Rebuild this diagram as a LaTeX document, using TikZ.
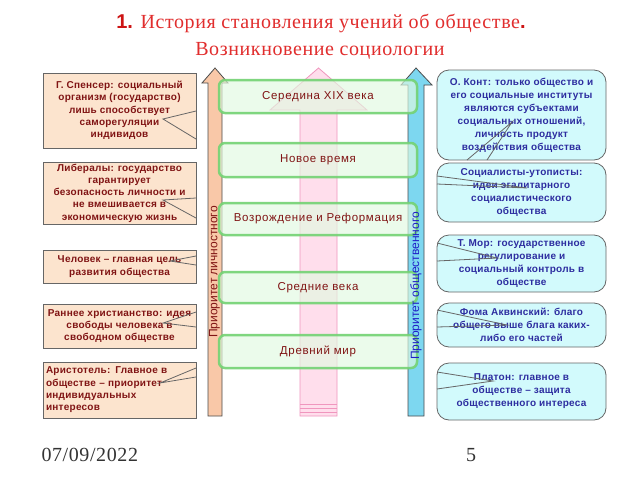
\documentclass[tikz,border=0pt]{standalone}
\usepackage{fontspec}
\setmainfont{Liberation Serif}[LetterSpace=3]
\setsansfont{Liberation Sans}
\newfontfamily\lbf{Liberation Sans}[LetterSpace=2.5]
\newfontfamily\gsf{Liberation Sans}[LetterSpace=6]
\definecolor{titlered}{RGB}{225,45,45}
\definecolor{titledark}{RGB}{205,20,20}
\definecolor{maroont}{RGB}{128,20,20}
\definecolor{navyt}{RGB}{45,45,160}
\definecolor{bluet}{RGB}{30,30,200}
\definecolor{peachbox}{RGB}{252,228,206}
\definecolor{cyanbox}{RGB}{210,250,252}
\definecolor{greenline}{RGB}{115,210,115}
\definecolor{greenfill}{RGB}{225,250,225}
\definecolor{orangearrow}{RGB}{249,200,168}
\definecolor{bluearrow}{RGB}{125,215,240}
\definecolor{pinkline}{RGB}{240,150,190}
\definecolor{pinkfill}{RGB}{255,222,236}
\tikzset{
  lbox/.style={draw=black!60, fill=peachbox, line width=0.8pt, inner sep=1pt, text=maroont,
    font=\lbf\bfseries\fontsize{10}{12.3}\selectfont, align=center, minimum width=153pt},
  rbox/.style={draw=black!60, fill=cyanbox, line width=0.8pt, rounded corners=12pt, inner sep=1pt, text=navyt,
    font=\lbf\bfseries\fontsize{10}{13}\selectfont, align=center, minimum width=169pt},
  gbox/.style={draw=greenline, line width=2.5pt, fill=greenfill, fill opacity=0.65, draw opacity=0.9, text opacity=1,
    rounded corners=6pt, minimum width=198pt, text=maroont, font=\gsf\fontsize{11.5}{13}\selectfont},
  notch/.style={draw=black!60, line width=0.8pt},
  arrowshape/.style={draw=black!70, line width=0.8pt},
  rottext/.style={rotate=90, font=\sffamily\fontsize{12}{13}\selectfont}
}
\begin{document}
\begin{tikzpicture}[x=1pt,y=-1pt]
\useasboundingbox[fill=white] (0,0) rectangle (640,480);
% title
\node[anchor=base, text=titlered, font=\fontsize{20}{24}\selectfont] (t1) at (321,28)
  {{\sffamily\bfseries\color{titledark}1.} История становления учений об обществе{\sffamily\bfseries\color{titledark}.}};
\node[anchor=base, text=titlered, font=\fontsize{20}{24}\selectfont] (t2) at (320,55) {Возникновение социологии};
% pink middle arrow
\draw[draw=pinkline, fill=pinkfill, line width=0.8pt]
  (300,416) -- (300,110) -- (270,110) -- (318.5,68) -- (367,110) -- (337,110) -- (337,416) -- cycle;
\draw[draw=pinkline, line width=0.6pt] (300,404) -- (337,404) (300,408) -- (337,408) (300,412) -- (337,412);
% left arrow
\draw[arrowshape, fill=orangearrow]
  (208,416) -- (208,83) -- (202,83) -- (215,68) -- (228,83) -- (222,83) -- (222,416) -- cycle;
% right arrow
\draw[arrowshape, fill=bluearrow]
  (408,416) -- (408,85) -- (401,85) -- (416,68) -- (432,85) -- (424,85) -- (424,416) -- cycle;
% green period boxes
\node[gbox, minimum height=33pt] (g1) at (318,96.5) {Середина XIX века};
\node[gbox, minimum height=34pt] (g2) at (318,160) {Новое время};
\node[gbox, minimum height=32pt] (g3) at (318,219) {Возрождение и Реформация};
\node[gbox, minimum height=31pt] (g4) at (318,287.5) {Средние века};
\node[gbox, minimum height=33pt] (g5) at (318,351.5) {Древний мир};
% rotated labels
\node[rottext, text=maroont] (pl) at (214.5,272) {Приоритет личностного};
\node[rottext, text=bluet] (po) at (416,286) {Приоритет общественного};
% left boxes
\node[lbox, minimum height=75pt] (l1) at (119.5,110.5)
  {Г. Спенсер: социальный\\организм (государство)\\лишь способствует\\саморегуляции\\индивидов};
\node[lbox, minimum height=62pt] (l2) at (119.5,193)
  {Либералы: государство\\гарантирует\\безопасность личности и\\не вмешивается в\\экономическую жизнь};
\node[lbox, minimum height=33pt] (l3) at (119.5,266.5)
  {Человек – главная цель\\развития общества};
\node[lbox, minimum height=44pt] (l4) at (119.5,326)
  {Раннее христианство: идея\\свободы человека в\\свободном обществе};
\node[lbox, minimum height=56pt, text width=147pt, align=left] (l5) at (119.5,390)
  {Аристотель: Главное в\\обществе – приоритет\\индивидуальных\\интересов};
\draw[notch] (196,111) -- (163,119) -- (196,139);
\draw[notch] (196,198) -- (163,200) -- (196,218);
\draw[notch] (196,256) -- (170,261) -- (196,265);
\draw[notch] (196,312) -- (163,323) -- (196,327);
\draw[notch] (196,368) -- (160,383) -- (196,377);
% right boxes
\node[rbox, minimum height=90pt] (r1) at (521.5,115)
  {О. Конт: только общество и\\его социальные институты\\являются субъектами\\социальных отношений,\\личность продукт\\воздействия общества};
\node[rbox, minimum height=59pt] (r2) at (521.5,192.5)
  {Социалисты-утописты:\\идеи эгалитарного\\социалистического\\общества};
\node[rbox, minimum height=57pt] (r3) at (521.5,263.5)
  {Т. Мор: государственное\\регулирование и\\социальный контроль в\\обществе};
\node[rbox, minimum height=44pt] (r4) at (521.5,325)
  {Фома Аквинский: благо\\общего выше блага каких-\\либо его частей};
\node[rbox, minimum height=57pt] (r5) at (521.5,391.5)
  {Платон: главное в\\обществе – защита\\общественного интереса};
\draw[notch] (467,160) -- (512,122) -- (487,160);
\draw[notch] (437,176) -- (527,188) -- (437,184);
\draw[notch] (437,243) -- (497,258) -- (437,261);
\draw[notch] (437,310) -- (507,325) -- (437,327);
\draw[notch] (437,372) -- (493,381) -- (437,389);
% footer
\node[anchor=base west, font=\fontsize{20}{24}\selectfont, text=black!80] (date) at (38,461) {07/09/2022};
\node[anchor=base, font=\fontsize{20}{24}\selectfont, text=black!80] (num) at (471,461) {5};
\end{tikzpicture}
\end{document}
